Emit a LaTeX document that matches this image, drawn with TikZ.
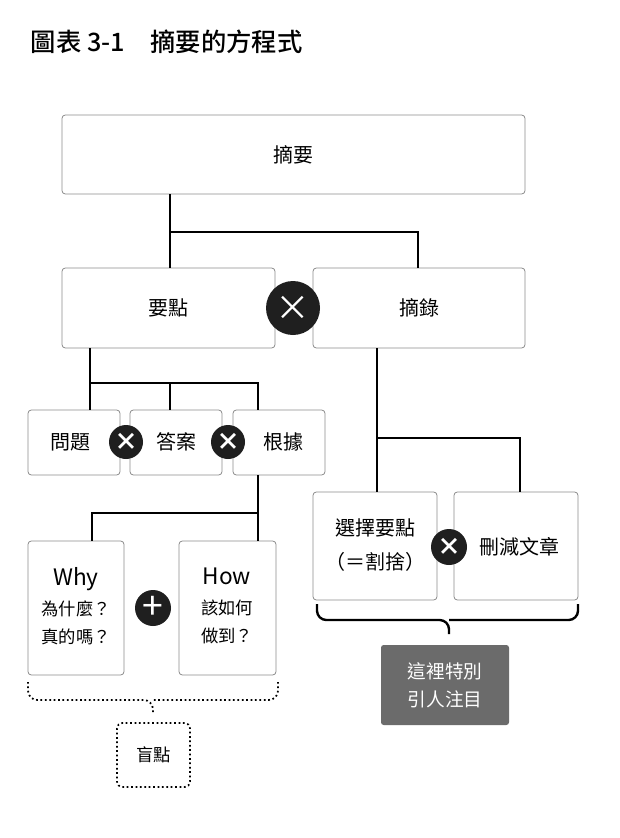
\documentclass[tikz,border=0pt]{standalone}
\usepackage{fontspec}
\setmainfont{Noto Sans CJK TC}
\newfontfamily\titlefont{Noto Sans CJK TC Medium}
\begin{document}
\begin{tikzpicture}[x=0.75pt,y=-0.75pt,
  box/.style={draw=black!45,line width=0.6pt,rounded corners=2.5pt,fill=white,inner sep=0pt},
  ln/.style={line width=2pt},
  op/.style={circle,fill=black!88,text=white,inner sep=0pt,font=\fontsize{22}{22}\selectfont\bfseries},
  t/.style={font=\fontsize{15}{21}\selectfont,align=center}]
\useasboundingbox (0,0) rectangle (620,838);
\node[anchor=west,font=\fontsize{19}{20}\selectfont\titlefont] (title) at (26,42) {圖表 3-1\quad 摘要的方程式};
% boxes
\draw[box] (62,115) rectangle (525,194); \node[t] (s) at (293.5,155) {摘要};
\draw[box] (62,268) rectangle (275,348); \node[t] (yd) at (168,308) {要點};
\draw[box] (313,268) rectangle (525,348); \node[t] (zl) at (419,308) {摘錄};
\draw[box] (28,410) rectangle (120,475); \node[t] (q) at (70,442) {問題};
\draw[box] (130,410) rectangle (222,475); \node[t] (a) at (176,442) {答案};
\draw[box] (233,410) rectangle (325,475); \node[t] (g) at (283,442) {根據};
\draw[box] (28,541) rectangle (124,675); \node[t] (why) at (76,606) {{\fontsize{17}{20}\selectfont Why}\\[2pt]{\fontsize{13}{20}\selectfont 為什麼？}\\{\fontsize{13}{20}\selectfont 真的嗎？}};
\draw[box] (179,541) rectangle (276,675); \node[t] (how) at (227,606) {{\fontsize{17}{20}\selectfont How}\\[2pt]{\fontsize{13}{20}\selectfont 該如何}\\{\fontsize{13}{20}\selectfont 做到？}};
\draw[box] (313,492) rectangle (437,600); \node[t,font=\fontsize{15}{25}\selectfont] (xz) at (375,545) {選擇要點\\（＝割捨）};
\draw[box] (454,492) rectangle (578,600); \node[t] (sj) at (519,547) {刪減文章};
% connectors
\draw[ln] (170,194) -- (170,232) -- (418,232) -- (418,268);
\draw[ln] (170,232) -- (170,268);
\draw[ln] (90,348) -- (90,410);
\draw[ln] (90,383) -- (258,383) -- (258,410);
\draw[ln] (170,383) -- (170,410);
\draw[ln] (258,475) -- (258,541);
\draw[ln] (258,513) -- (92,513) -- (92,541);
\draw[ln] (377,348) -- (377,492);
\draw[ln] (377,438) -- (520,438) -- (520,492);
% operators
\node[op,minimum size=54*0.75pt,font=\fontsize{26}{26}\selectfont] (o1) at (293,308) {×};
\node[op,minimum size=34*0.75pt,font=\fontsize{18}{18}\selectfont\bfseries] (o2) at (126,442) {×};
\node[op,minimum size=34*0.75pt,font=\fontsize{18}{18}\selectfont\bfseries] (o3) at (228,442) {×};
\node[op,minimum size=36*0.75pt,font=\fontsize{28}{28}\selectfont] (o4) at (153,608) {+};
\node[op,minimum size=36*0.75pt,font=\fontsize{18}{18}\selectfont\bfseries] (o5) at (449,547) {×};
% braces
\draw[line width=1.8pt,rounded corners=7pt] (317,604) -- (317,620) -- (449,620) -- (449,634);
\draw[line width=1.8pt,rounded corners=7pt] (578,604) -- (578,620) -- (449,620);
\draw[line width=1.3pt,dotted,rounded corners=7pt] (28,682) -- (28,700) -- (153,700) -- (153,713);
\draw[line width=1.3pt,dotted,rounded corners=7pt] (278,682) -- (278,700) -- (153,700);
\node[fill=black!58,rounded corners=2pt,minimum width=128*0.75pt,minimum height=80*0.75pt,text=white,t,font=\fontsize{14}{21}\selectfont] (hl) at (445,685) {這裡特別\\引人注目};
\node[draw,dotted,line width=1.3pt,rounded corners=4pt,minimum width=73*0.75pt,minimum height=64*0.75pt,t,font=\fontsize{13}{16}\selectfont] (md) at (153.5,755) {盲點};
\end{tikzpicture}
\end{document}
